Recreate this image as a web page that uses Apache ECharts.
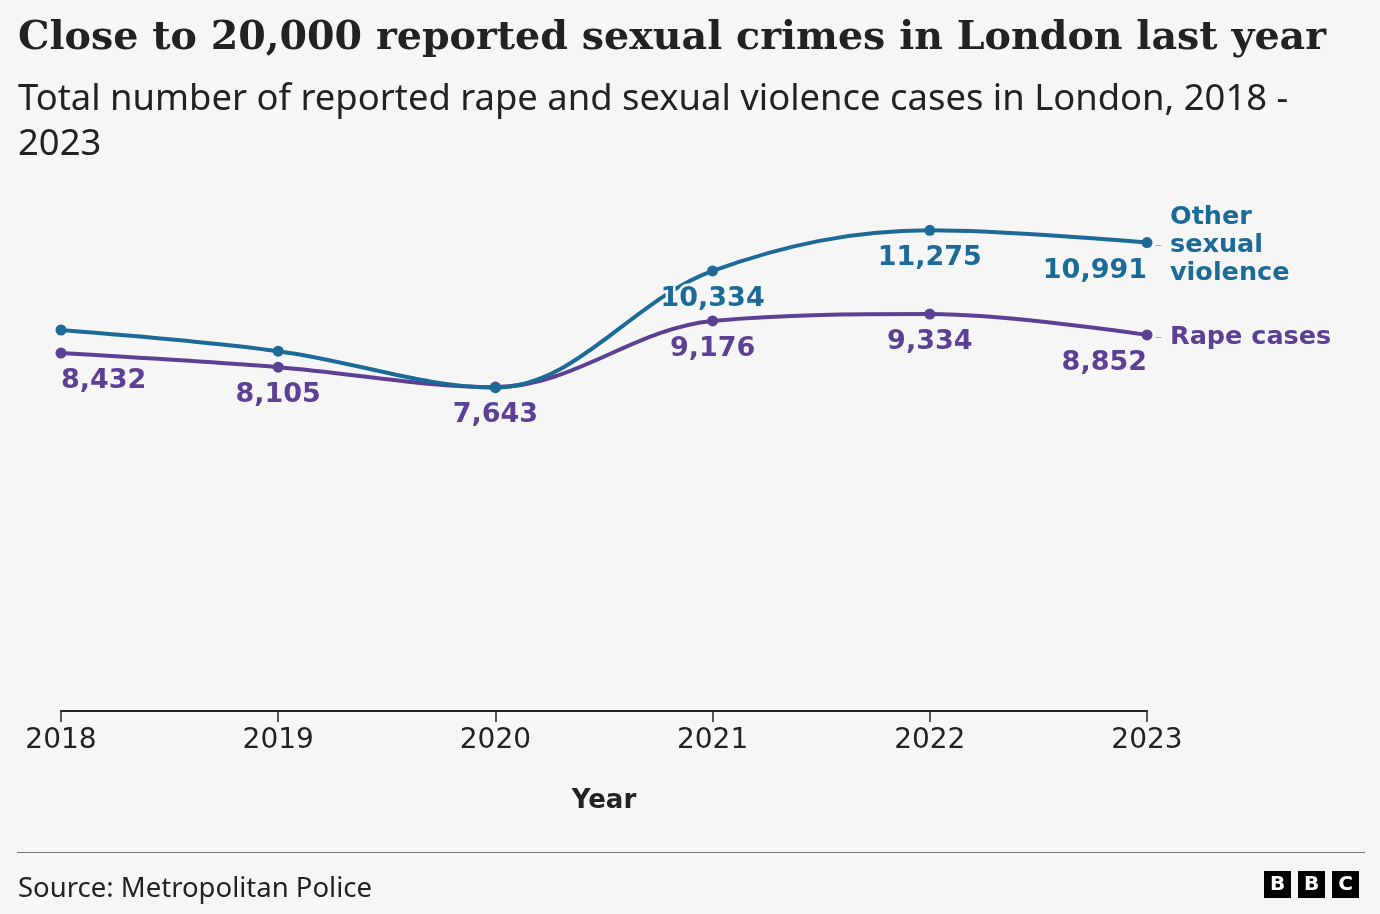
<!DOCTYPE html>
<html lang="en">
<head>
<meta charset="UTF-8">
<title>Reported sexual crimes in London</title>
<script src="https://cdn.jsdelivr.net/npm/echarts@6/dist/echarts.min.js"></script>
<style>
  html, body { margin: 0; padding: 0; background: #f6f6f6; }
  #chart { width: 1380px; height: 914px; }
</style>
</head>
<body>
<div id="chart"></div>
<script>
// data
var years = ['2018', '2019', '2020', '2021', '2022', '2023'];
var rapeCases = [8432, 8105, 7643, 9176, 9334, 8852];
var otherViolence = [8965, 8475, 7630, 10334, 11275, 10991];
var otherLabelled = [false, false, false, true, true, true];

var BLUE = '#1c6a97';
var PURPLE = '#5b4094';
var INK = '#222222';
var BG = '#f6f6f6';
var BOLD_FONT = 'DejaVu Sans';

function fmt(v) {
    return String(v).replace(/\B(?=(\d{3})+(?!\d))/g, ',');
}

// first label hangs right of its point, last one left, others centred
function alignFor(i) {
    if (i === 0) return 'left';
    if (i === years.length - 1) return 'right';
    return 'center';
}

function valueLabel(color) {
    return {
        show: true,
        position: 'bottom',
        distance: 9,
        fontFamily: BOLD_FONT,
        fontWeight: 'bold',
        fontSize: 27,
        color: color,
        textBorderColor: BG,
        textBorderWidth: 5,
        formatter: function (p) { return fmt(p.value); }
    };
}

function endRich(color) {
    var t = { fontFamily: BOLD_FONT, fontWeight: 'bold', fontSize: 25.5, color: color, lineHeight: 28 };
    return {
        t: t,
        d: { width: 15, fontSize: 14, color: '#aaaaaa', lineHeight: 28, fontFamily: BOLD_FONT },
        s: { width: 15, fontSize: 14, lineHeight: 28 }
    };
}

var rapeData = rapeCases.map(function (v, i) {
    return { value: v, label: { align: alignFor(i) } };
});
var otherData = otherViolence.map(function (v, i) {
    return { value: v, label: { show: otherLabelled[i], align: alignFor(i) } };
});

var myChart = echarts.init(document.getElementById('chart'));

var option = {
    backgroundColor: BG,
    animation: false,
    title: [{
        text: 'Close to 20,000 reported sexual crimes in London last year',
        left: 18, top: 19, padding: 0,
        textStyle: { fontFamily: 'DejaVu Serif', fontWeight: 'bold', fontSize: 39.6, color: INK }
    }, {
        text: 'Total number of reported rape and sexual violence cases in London, 2018 -\n2023',
        left: 18, top: 77, padding: 0,
        textStyle: { fontFamily: 'Noto Sans', fontWeight: 'normal', fontSize: 36.4, lineHeight: 45, color: INK }
    }, {
        text: 'Source: Metropolitan Police',
        left: 18, top: 875, padding: 0,
        textStyle: { fontFamily: 'Noto Sans', fontWeight: 'normal', fontSize: 27.5, color: INK }
    }],
    grid: { left: 61, right: 233, top: 199, bottom: 197 },
    xAxis: {
        type: 'category',
        data: years,
        boundaryGap: false,
        offset: -6,
        name: 'Year',
        nameLocation: 'middle',
        nameGap: 77,
        nameTextStyle: { fontFamily: BOLD_FONT, fontWeight: 'bold', fontSize: 26, color: INK },
        axisLine: { lineStyle: { color: INK, width: 2 } },
        axisTick: { show: true, alignWithLabel: true, length: 11, lineStyle: { color: INK, width: 1.5 } },
        axisLabel: { fontFamily: 'DejaVu Sans', fontSize: 28, color: INK, margin: 16 },
        splitLine: { show: false }
    },
    yAxis: {
        type: 'value',
        min: 0,
        max: 12000,
        show: false
    },
    series: [{
        name: 'Rape cases',
        type: 'line',
        data: rapeData,
        smooth: 0.35,
        symbol: 'circle',
        symbolSize: 11,
        lineStyle: { color: PURPLE, width: 4 },
        itemStyle: { color: PURPLE },
        label: valueLabel(PURPLE),
        endLabel: {
            show: true,
            distance: 8,
            padding: [5, 0, 0, 0],
            formatter: '{d|–}{t|Rape cases}',
            rich: endRich(PURPLE)
        },
        emphasis: { disabled: true }
    }, {
        name: 'Other sexual violence',
        type: 'line',
        data: otherData,
        smooth: 0.35,
        symbol: 'circle',
        symbolSize: 11,
        lineStyle: { color: BLUE, width: 4 },
        itemStyle: { color: BLUE },
        label: valueLabel(BLUE),
        endLabel: {
            show: true,
            distance: 8,
            padding: [6, 0, 0, 0],
            formatter: '{s| }{t|Other}\n{d|–}{t|sexual}\n{s| }{t|violence}',
            rich: endRich(BLUE)
        },
        emphasis: { disabled: true }
    }],
    graphic: [{
        type: 'line',
        shape: { x1: 17, y1: 852.5, x2: 1365, y2: 852.5 },
        style: { stroke: '#777777', lineWidth: 1 }
    }, {
        // BBC blocks
        type: 'group',
        right: 21,
        top: 871,
        children: ['B', 'B', 'C'].flatMap(function (ch, i) {
            return [{
                type: 'rect',
                shape: { x: i * 34, y: 0, width: 27, height: 27 },
                style: { fill: '#000000' }
            }, {
                type: 'text',
                x: i * 34 + 13.5, y: 14,
                style: {
                    text: ch, fill: '#ffffff', fontFamily: BOLD_FONT, fontWeight: 'bold',
                    fontSize: 20, align: 'center', verticalAlign: 'middle'
                }
            }];
        })
    }]
};

myChart.setOption(option);
</script>
</body>
</html>
